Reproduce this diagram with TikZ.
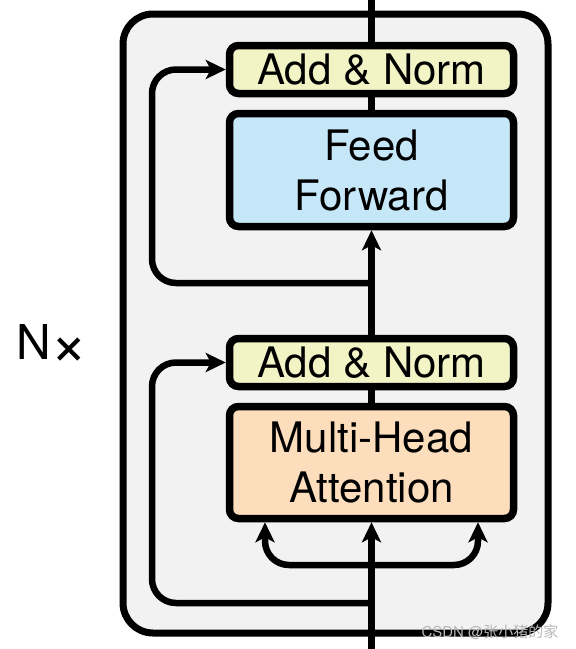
\documentclass[tikz,border=0pt]{standalone}
\usepackage{fontspec}
\setmainfont{TeX Gyre Heros}
\newfontfamily\cjkfont{Noto Sans CJK SC}
\usetikzlibrary{arrows.meta}
\usepackage{xcolor}
\definecolor{layergray}{HTML}{F2F2F2}
\definecolor{normyellow}{HTML}{F2F4C6}
\definecolor{ffblue}{HTML}{C6E7F8}
\definecolor{attnpeach}{HTML}{FCDDBC}
\definecolor{markgray}{HTML}{B8B8B8}

\begin{document}
\begin{tikzpicture}[
    x=1pt, y=-1pt,
    sublayer/.style={
      draw=black,
      line width=7.5pt,
      rounded corners=9pt,
      minimum width=284pt,
      align=center,
      font=\fontsize{42}{50}\selectfont
    },
    flow/.style={line width=6.5pt, line join=round},
    flowarrow/.style={flow, -{Stealth[length=20pt,width=19pt,inset=5pt]}}
  ]
  \useasboundingbox[fill=white] (0,0) rectangle (576,649);

  % the repeated layer
  \draw[line width=7pt, rounded corners=30pt, fill=layergray] (123,14) rectangle (548,633);
  \node[font=\fontsize{48}{48}\selectfont, inner sep=0pt, anchor=west] (repeat) at (16,345)
    {N\raisebox{-6pt}{\fontsize{64}{64}\selectfont ×}};

  % sub-layers
  \node[sublayer, fill=normyellow, minimum height=48pt] (addnormtop) at (371.5,69.5) {Add \& Norm};
  \node[sublayer, fill=ffblue, minimum height=113pt] (feedfwd) at (371.5,170) {Feed\\Forward};
  \node[sublayer, fill=normyellow, minimum height=48pt] (addnormlow) at (371.5,362.5) {Add \& Norm};
  \node[sublayer, fill=attnpeach, minimum height=112pt] (mha) at (371.5,462.5) {Multi-Head\\Attention};

  \coordinate (input) at (371.5,649);
  \coordinate (output) at (371.5,0);
  \coordinate (fork) at (371.5,565);
  \coordinate (skiplow) at (371.5,603);
  \coordinate (skiptop) at (371.5,283);

  % main path
  \draw[flowarrow] (input) -- (mha.south);
  \draw[flowarrow, rounded corners=24pt] (fork) -| ([xshift=-106.5pt]mha.south);
  \draw[flowarrow, rounded corners=24pt] (fork) -| ([xshift=106.5pt]mha.south);
  \draw[flow] (mha.north) -- (addnormlow.south);
  \draw[flowarrow] (addnormlow.north) -- (feedfwd.south);
  \draw[flow] (feedfwd.north) -- (addnormtop.south);
  \draw[flow] (addnormtop.north) -- (output);

  % residual connections
  \draw[flowarrow, rounded corners=24pt] (skiplow) -- (152,603) -- (152,362.5) -- (addnormlow.west);
  \draw[flowarrow, rounded corners=24pt] (skiptop) -- (152,283) -- (152,69.5) -- (addnormtop.west);

  \node[text=markgray, font=\fontsize{15}{15}\selectfont, anchor=east] (mark) at (562,632) {CSDN @{\cjkfont 张小猪的家}};
\end{tikzpicture}
\end{document}
